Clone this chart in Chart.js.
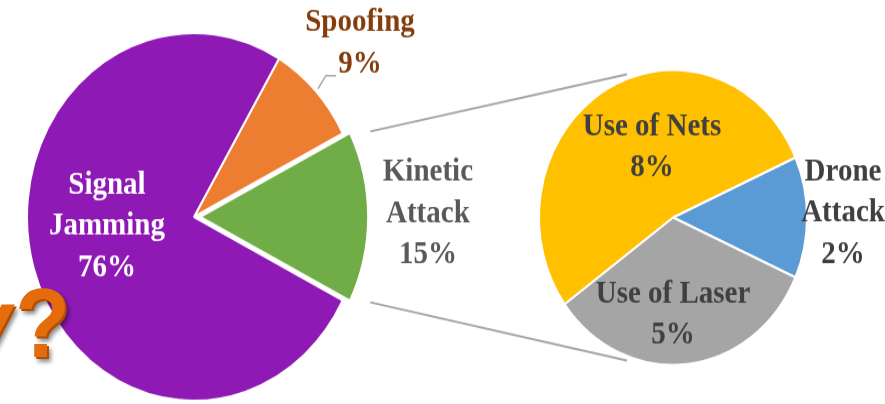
<!DOCTYPE html>
<html><head><meta charset="utf-8">
<script src="https://cdn.jsdelivr.net/npm/chart.js@4.4.0/dist/chart.umd.min.js"></script>
<style>
html,body{margin:0;padding:0;background:#fff;overflow:hidden;width:885px;height:404px}
#stage{position:absolute;left:0;top:0;width:885px;height:367px;transform:scaleY(1.1008);transform-origin:0 0}
#stage canvas{position:absolute;left:0;top:0}
.q{position:absolute;top:248px;font-family:"Liberation Sans",Arial,sans-serif;font-weight:bold;font-size:90px;line-height:90px;color:#E46C0A;white-space:nowrap;text-shadow:2px 2px 0 #B34E06,4px 5px 4px rgba(0,0,0,.45)}
</style></head><body>
<div id="stage">
<canvas id="left" width="885" height="367"></canvas>
<canvas id="right" width="885" height="367"></canvas>
<span class="q" style="left:-39px;font-style:italic">y</span><span class="q" style="left:15px">?</span>
</div>
<script>
// ---- data ----
const mainCategories = ['Spoofing', 'Kinetic Attack', 'Signal Jamming'];
const mainValues = [9, 15, 76];
const mainLabelLines = [['Spoofing'], ['Kinetic', 'Attack'], ['Signal', 'Jamming']];
const subCategories = ['Drone Attack', 'Use of Laser', 'Use of Nets'];
const subValues = [2, 5, 8];
const subLabelLines = [['Drone', 'Attack'], ['Use of Laser'], ['Use of Nets']];

const FONT = 'bold 29px "Liberation Serif", "Times New Roman", serif';

const sliceLabels = {
  id: 'sliceLabels',
  afterDatasetsDraw(chart, args, opts) {
    const meta = chart.getDatasetMeta(0);
    const ctx = chart.ctx;
    const values = chart.data.datasets[0].data;
    ctx.save();
    ctx.font = opts.font;
    ctx.textAlign = 'center';
    ctx.textBaseline = 'middle';
    meta.data.forEach((arc, i) => {
      const off = arc.options.offset || 0;
      const mid = (arc.startAngle + arc.endAngle) / 2;
      const cx = arc.x + off * Math.cos(mid), cy = arc.y + off * Math.sin(mid);
      const [deg, f] = opts.anchors[i];
      const ang = deg * Math.PI / 180, r = f * arc.outerRadius;
      const px = cx + r * Math.cos(ang), py = cy + r * Math.sin(ang);
      const lines = [...opts.lines[i], values[i] + '%'];
      ctx.fillStyle = opts.colors[i];
      lines.forEach((t, k) => ctx.fillText(t, px, py + (k - (lines.length - 1) / 2) * opts.lineHeight));
      if (opts.leader && opts.leader[i]) {
        const L = opts.leader[i];
        const sx = cx + (arc.outerRadius + 3) * Math.cos(mid), sy = cy + (arc.outerRadius + 3) * Math.sin(mid);
        ctx.strokeStyle = '#A5A5A5';
        ctx.lineWidth = 1.5;
        ctx.beginPath();
        ctx.moveTo(sx, sy);
        ctx.lineTo(sx + L[0], sy + L[1]);
        ctx.lineTo(sx + L[0] + L[2], sy + L[1]);
        ctx.stroke();
      }
    });
    ctx.restore();
  }
};

const leftChart = new Chart(document.getElementById('left'), {
  type: 'pie',
  data: {
    labels: mainCategories,
    datasets: [{
      data: mainValues,
      backgroundColor: ['#ED7D31', '#70AD47', '#8E19B5'],
      borderColor: '#FFFFFF',
      borderWidth: 2,
      offset: [0, 24, 0],
      radius: 167
    }]
  },
  options: {
    responsive: false,
    animation: false,
    events: [],
    rotation: 30.6,
    layout: { padding: { left: 0, right: 497, top: 27, bottom: 0 } },
    plugins: {
      legend: { display: false },
      tooltip: { enabled: false },
      sliceLabels: {
        font: FONT,
        lineHeight: 37.5,
        anchors: [[-43.5, 1.37], [-0.8, 1.257], [174.1, 0.524]],
        colors: ['#843C0C', '#595959', '#FFFFFF'],
        lines: mainLabelLines,
        leader: [[8, -12, 10], null, null]
      }
    }
  },
  plugins: [sliceLabels]
});

const connectors = {
  id: 'connectors',
  afterDatasetsDraw(chart) {
    const src = leftChart.getDatasetMeta(0).data[1];
    const dst = chart.getDatasetMeta(0).data[0];
    const off = src.options.offset || 0;
    const mid = (src.startAngle + src.endAngle) / 2;
    const cx = src.x + off * Math.cos(mid), cy = src.y + off * Math.sin(mid);
    const rs = src.outerRadius + 4;
    const rd = dst.outerRadius * 1.03;
    const a = 109.5 * Math.PI / 180;
    const ctx = chart.ctx;
    ctx.save();
    ctx.strokeStyle = '#A5A5A5';
    ctx.lineWidth = 2;
    ctx.beginPath();
    ctx.moveTo(cx + rs * Math.cos(src.startAngle), cy + rs * Math.sin(src.startAngle));
    ctx.lineTo(dst.x + rd * Math.cos(-a), dst.y + rd * Math.sin(-a));
    ctx.moveTo(cx + rs * Math.cos(src.endAngle), cy + rs * Math.sin(src.endAngle));
    ctx.lineTo(dst.x + rd * Math.cos(a), dst.y + rd * Math.sin(a));
    ctx.stroke();
    ctx.restore();
  }
};

new Chart(document.getElementById('right'), {
  type: 'pie',
  data: {
    labels: subCategories,
    datasets: [{
      data: subValues,
      backgroundColor: ['#5B9BD5', '#A5A5A5', '#FFC000'],
      borderColor: '#FFFFFF',
      borderWidth: 2,
      radius: 134
    }]
  },
  options: {
    responsive: false,
    animation: false,
    events: [],
    rotation: 66,
    layout: { padding: { left: 523, right: 62, top: 47.5, bottom: 19.5 } },
    plugins: {
      legend: { display: false },
      tooltip: { enabled: false },
      sliceLabels: {
        font: FONT,
        lineHeight: 37.5,
        anchors: [[-1.2, 1.269], [90, 0.66], [-108.3, 0.499]],
        colors: ['#404040', '#404040', '#404040'],
        lines: subLabelLines
      }
    }
  },
  plugins: [connectors, sliceLabels]
});
</script>
</body></html>
